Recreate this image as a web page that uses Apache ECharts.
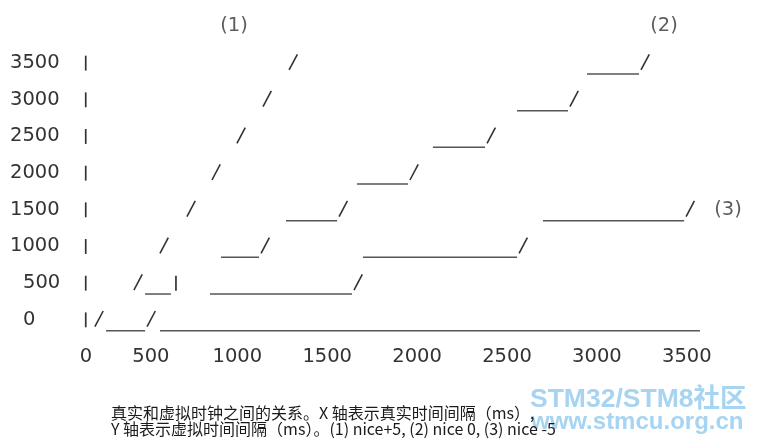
<!DOCTYPE html>
<html><head><meta charset="utf-8">
<script src="https://cdn.jsdelivr.net/npm/echarts@6/dist/echarts.min.js"></script>
<style>html,body{margin:0;padding:0;background:#fff}#c{width:760px;height:445px}</style>
</head><body><div id="c"></div>
<script>
// ---- data (ms) ----
const xTicks = [0, 500, 1000, 1500, 2000, 2500, 3000, 3500];   // real time interval
const yTicks = [0, 500, 1000, 1500, 2000, 2500, 3000, 3500];   // virtual time interval
const axisBarX = 157;                                           // the "|" column
// each mark: [virtual ms (row), underscore start ms, underscore end ms, end glyph]
const curve1 = [ // nice +5
  [0, 208, 208, '/'], [500, 425, 425, '/'], [1000, 570, 570, '/'], [1500, 720, 720, '/'],
  [2000, 859, 859, '/'], [2500, 998, 998, '/'], [3000, 1143, 1143, '/'], [3500, 1288, 1288, '/']
];
const curve2 = [ // nice 0
  [0, 270, 487, '/'], [500, 487, 631, '|'], [1000, 909, 1121, '/'], [1500, 1271, 1555, '/'],
  [2000, 1666, 1949, '/'], [2500, 2088, 2378, '/'], [3000, 2556, 2839, '/'], [3500, 2945, 3234, '/']
];
const curve3 = [ // nice -5
  [0, 570, 3573, ''], [500, 848, 1638, '/'], [1000, 1699, 2556, '/'], [1500, 2700, 3485, '/']
];
const axisBars = yTicks.map(v => [v, axisBarX, axisBarX, '|']);
const curveLabels = [[982, 4000, '(1)'], [3373, 4000, '(2)'], [3729, 1500, '(3)']];
const captionLines = [
  '真实和虚拟时钟之间的关系。X 轴表示真实时间间隔（ms）,',
  'Y 轴表示虚拟时间间隔（ms）。(1) nice+5, (2) nice 0, (3) nice -5'
];
const watermarkLines = ['STM32/STM8社区', 'www.stmcu.org.cn'];

// ---- styles ----
const ASCII_FONT = 'DejaVu Sans';
const ASCII_SIZE = 19.5;
const TEXT_COLOR = '#333333';

function makeSeries(name, arr) {
  return {
    type: 'custom', name: name, clip: false, silent: true,
    encode: { x: [1, 2], y: 0 },
    data: arr.map(d => [d[0], d[1], d[2]]),
    renderItem: function (params, api) {
      const item = arr[params.dataIndex];
      const p0 = api.coord([api.value(1), api.value(0)]);
      const p1 = api.coord([api.value(2), api.value(0)]);
      const cy = p0[1];
      const children = [];
      const hasRun = item[2] > item[1];
      if (hasRun) {
        children.push({ type: 'line', shape: { x1: p0[0], y1: cy + 11, x2: p1[0], y2: cy + 11 },
          style: { stroke: '#555', lineWidth: 1.5 } });
      }
      if (item[3] === '/') {
        const gx = p1[0] + (hasRun ? 2 : 0);
        children.push({ type: 'line', shape: { x1: gx, y1: cy + 7, x2: gx + 8.3, y2: cy - 8.7 },
          style: { stroke: '#333', lineWidth: 1.6 } });
      } else if (item[3] === '|') {
        const gx = p1[0] + (hasRun ? 5 : 0);
        children.push({ type: 'line', shape: { x1: gx, y1: cy - 7.3, x2: gx, y2: cy + 7.6 },
          style: { stroke: '#333', lineWidth: 1.7 } });
      }
      return { type: 'group', children: children };
    }
  };
}

const chart = echarts.init(document.getElementById('c'), null, { renderer: 'canvas' });
chart.setOption({
  animation: false,
  backgroundColor: '#fff',
  grid: { left: 57.5, right: 73.2, top: 26.3, bottom: 125.3, containLabel: false },
  xAxis: {
    type: 'value', min: xTicks[0], max: xTicks[xTicks.length - 1], interval: 500,
    axisLine: { show: false }, axisTick: { show: false }, splitLine: { show: false },
    axisLabel: {
      margin: 27, color: TEXT_COLOR, fontFamily: ASCII_FONT, fontSize: ASCII_SIZE, lineHeight: 20,
      formatter: function (v) {
        if (v === 0) return '{z|0}';
        if (v === 500) return '{f|500}';
        return String(v);
      },
      rich: {
        z: { padding: [0, 0, 0, 57], color: TEXT_COLOR, fontFamily: ASCII_FONT, fontSize: ASCII_SIZE, lineHeight: 20 },
        f: { padding: [0, 0, 0, 7], color: TEXT_COLOR, fontFamily: ASCII_FONT, fontSize: ASCII_SIZE, lineHeight: 20 }
      }
    }
  },
  yAxis: {
    type: 'value', min: 0, max: 4000, interval: 500,
    axisLine: { show: false }, axisTick: { show: false }, splitLine: { show: false },
    axisLabel: {
      align: 'left', margin: 47.5, color: TEXT_COLOR, fontFamily: ASCII_FONT, fontSize: ASCII_SIZE,
      formatter: function (v) {
        if (yTicks.indexOf(v) < 0) return '';
        if (v < 1000) return '{p|' + v + '}';
        return String(v);
      },
      rich: { p: { padding: [0, 0, 0, 13], color: TEXT_COLOR, fontFamily: ASCII_FONT, fontSize: ASCII_SIZE } }
    }
  },
  series: [
    makeSeries('axis', axisBars),
    makeSeries('nice +5', curve1),
    makeSeries('nice 0', curve2),
    makeSeries('nice -5', curve3),
    {
      type: 'scatter', name: 'labels', symbolSize: 0, silent: true, clip: false,
      data: curveLabels,
      label: { show: true, position: 'inside', formatter: p => p.data[2],
        color: TEXT_COLOR, fontFamily: ASCII_FONT, fontSize: ASCII_SIZE }
    }
  ],
  graphic: [
    { type: 'text', left: 530, top: 386, silent: true, z: 1,
      style: { text: watermarkLines[0], fill: '#a6d4f1', font: 'bold 26.5px "Liberation Sans", "Noto Sans CJK SC"' } },
    { type: 'text', left: 531, top: 410, silent: true, z: 1,
      style: { text: watermarkLines[1], fill: '#a6d4f1', font: 'bold 24px "Liberation Sans"' } },
    { type: 'text', left: 111, top: 405, silent: true, z: 2,
      style: { text: captionLines.join('\n'), fill: '#1a1a1a', font: '16px "Noto Sans CJK SC"', lineHeight: 16 } }
  ]
});
</script>
</body></html>
